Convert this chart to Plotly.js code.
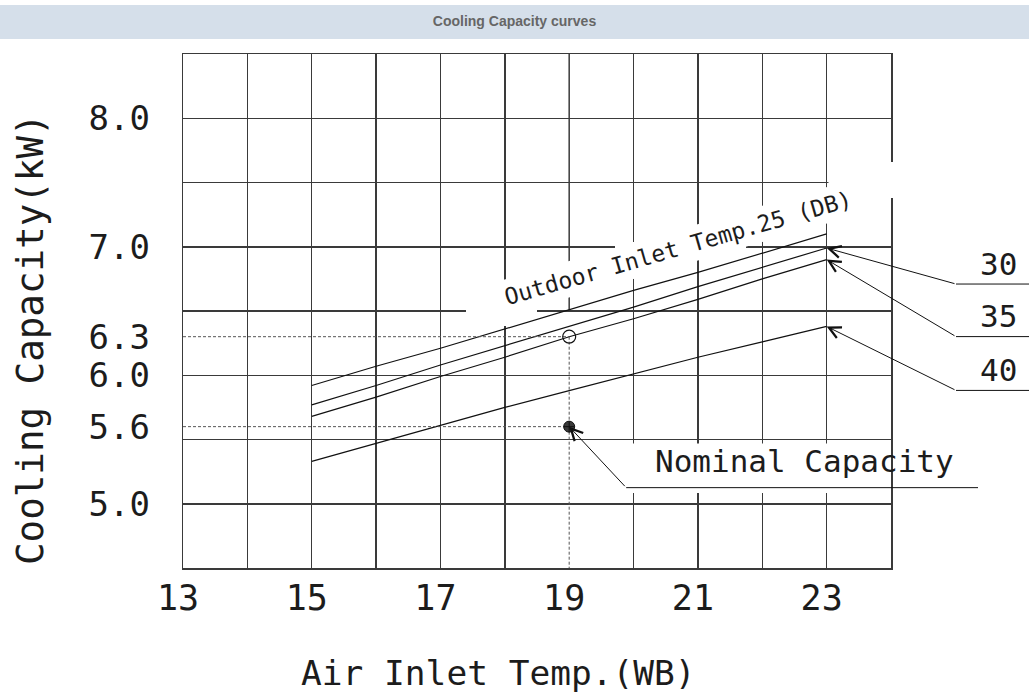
<!DOCTYPE html>
<html>
<head>
<meta charset="utf-8">
<script src="https://cdn.plot.ly/plotly-3.0.1.min.js"></script>
<style>
  html, body { margin: 0; padding: 0; background: #ffffff; }
  #chart { width: 1029px; height: 693px; }
</style>
</head>
<body>
<div id="chart"></div>
<script>
// ---------------- data ----------------
const airInletTemp = [15, 16, 17, 18, 19, 20, 21, 22, 23];          // indoor air inlet temp (WB)
const outdoorTemps = ['25', '30', '35', '40'];                        // outdoor inlet temp (DB)
const cap25 = [5.92, 6.07, 6.21, 6.36, 6.51, 6.66, 6.80, 6.95, 7.10];
const cap30 = [5.77, 5.92, 6.08, 6.23, 6.38, 6.53, 6.69, 6.84, 6.99];
const cap35 = [5.68, 5.83, 5.99, 6.14, 6.30, 6.44, 6.59, 6.75, 6.90];
const cap40 = [5.33, 5.47, 5.61, 5.75, 5.88, 6.01, 6.14, 6.26, 6.38];

const nominalTemp = 19;        // WB
const ratedCapacity = 6.3;     // kW (open circle)
const nominalCapacity = 5.6;   // kW (filled dot)

const xTickVals = [13, 15, 17, 19, 21, 23];
const xTickText = ['13', '15', '17', '19', '21', '23'];
const yTickVals = [5.0, 5.6, 6.0, 6.3, 7.0, 8.0];
const yTickText = ['5.0', '5.6', '6.0', '6.3', '7.0', '8.0'];

const xRange = [13, 24];
const yRange = [4.5, 8.5];
const xGrid = [14, 15, 16, 17, 18, 20, 21, 22, 23];   // 19 is drawn only partly
const yGrid = [5.0, 5.5, 6.0, 6.5, 7.0, 7.5, 8.0];

// ---------------- layout geometry ----------------
const L = 183, T = 54, W = 708, H = 514, R = 1029 - L - W, B = 693 - T - H;
const px = (p) => (p - L) / W;                 // pixel -> paper x
const py = (p) => (T + H - p) / H;             // pixel -> paper y
const dx = (p) => xRange[0] + (p - L) / W * (xRange[1] - xRange[0]);
const dy = (p) => yRange[0] + (T + H - p) / H * (yRange[1] - yRange[0]);

const CAD = 'DejaVu Sans Mono, Liberation Mono, monospace';
const INK = '#1c1c1c';
const GRID = '#3a3a3a';
const GW = 1.5;

const curves = [cap25, cap30, cap35, cap40];
const traces = curves.map((c, i) => ({
  type: 'scatter', mode: 'lines', x: airInletTemp, y: c,
  name: outdoorTemps[i], line: { color: '#111', width: 1.2 },
  showlegend: false, hoverinfo: 'skip'
}));

// dashed reference lines to the rated / nominal points
traces.push({
  type: 'scatter', mode: 'lines',
  x: [xRange[0], nominalTemp, null, xRange[0], nominalTemp, null, nominalTemp, nominalTemp],
  y: [ratedCapacity, ratedCapacity, null, nominalCapacity, nominalCapacity, null, ratedCapacity, yRange[0]],
  line: { color: '#555', width: 1, dash: '3px,2px' },
  showlegend: false, hoverinfo: 'skip'
});
traces.push({
  type: 'scatter', mode: 'markers', x: [nominalTemp], y: [ratedCapacity],
  marker: { symbol: 'circle-open', size: 13, color: '#111', line: { width: 1.2, color: '#111' } },
  showlegend: false, hoverinfo: 'skip'
});
traces.push({
  type: 'scatter', mode: 'markers', x: [nominalTemp], y: [nominalCapacity],
  marker: { symbol: 'circle-cross', size: 11, color: '#3a3a3a', line: { width: 1, color: '#111' } },
  showlegend: false, hoverinfo: 'skip'
});
// carrier for the label axes
traces.push({ type: 'scatter', mode: 'markers', x: [null], y: [null], xaxis: 'x2', yaxis: 'y2',
  showlegend: false, hoverinfo: 'skip' });

// ---------------- leaders ----------------
const elbowX = 956, rightEnd = 1029;
const leaders = [
  { val: cap30[cap30.length - 1], ay: 36,  label: outdoorTemps[1], labelY: 264 },
  { val: cap35[cap35.length - 1], ay: 77,  label: outdoorTemps[2], labelY: 316 },
  { val: cap40[cap40.length - 1], ay: 64,  label: outdoorTemps[3], labelY: 370 }
];
const endX = airInletTemp[airInletTemp.length - 1];
const tipPaperY = (v) => (v - yRange[0]) / (yRange[1] - yRange[0]);
const xPix = (v) => L + (v - xRange[0]) / (xRange[1] - xRange[0]) * W;

const annotations = [];
const shapes = [];

// title band
shapes.push({ type: 'rect', xref: 'paper', yref: 'paper', layer: 'below',
  x0: px(0), x1: px(1029), y0: py(39), y1: py(5),
  fillcolor: '#d5dfea', line: { width: 0 } });

// upper part of the x = 19 grid line
shapes.push({ type: 'line', xref: 'x', yref: 'y', layer: 'between',
  x0: nominalTemp, x1: nominalTemp, y0: 6.5, y1: yRange[1],
  line: { color: GRID, width: GW } });

// white masks behind CAD text (grid gaps)
shapes.push({ type: 'rect', xref: 'x', yref: 'y', layer: 'between',
  x0: dx(628), x1: dx(900), y0: dy(493), y1: dy(443.5),
  fillcolor: '#ffffff', line: { width: 0 } });
shapes.push({ type: 'rect', xref: 'x', yref: 'y', layer: 'between',
  x0: dx(466), x1: dx(537), y0: dy(326), y1: dy(289),
  fillcolor: '#ffffff', line: { width: 0 } });
shapes.push({ type: 'rect', xref: 'x', yref: 'y', layer: 'between',
  x0: dx(615), x1: dx(746), y0: dy(251), y1: dy(242),
  fillcolor: '#ffffff', line: { width: 0 } });
shapes.push({ type: 'rect', xref: 'paper', yref: 'paper', layer: 'above',
  x0: px(828.5), x1: px(900), y0: py(198), y1: py(162),
  fillcolor: '#ffffff', line: { width: 0 } });

leaders.forEach(ld => {
  annotations.push({ x: endX, y: ld.val, xref: 'x', yref: 'y', text: '',
    showarrow: true, ax: elbowX - xPix(endX), ay: ld.ay,
    axref: 'pixel', ayref: 'pixel', arrowhead: 5, arrowsize: 2.3, arrowwidth: 1,
    arrowcolor: '#111', standoff: 0 });
  const yy = tipPaperY(ld.val) - ld.ay / H;
  shapes.push({ type: 'line', xref: 'paper', yref: 'paper', x0: px(elbowX), x1: px(rightEnd),
    y0: yy, y1: yy, line: { color: '#111', width: 1 } });
  annotations.push({ xref: 'paper', yref: 'paper', x: px(998), y: py(ld.labelY),
    text: ld.label, showarrow: false, xanchor: 'center', yanchor: 'middle',
    font: { family: CAD, size: 31, color: INK } });
});

// nominal capacity leader
{
  const ax = 57, ay = 61;
  annotations.push({ x: nominalTemp, y: nominalCapacity, xref: 'x', yref: 'y', text: '',
    showarrow: true, ax: ax, ay: ay, axref: 'pixel', ayref: 'pixel',
    arrowhead: 5, arrowsize: 2.3, arrowwidth: 1, arrowcolor: '#111', standoff: 0 });
  const yy = tipPaperY(nominalCapacity) - ay / H;
  shapes.push({ type: 'line', xref: 'paper', yref: 'paper', x0: px(xPix(nominalTemp) + ax), x1: px(978),
    y0: yy, y1: yy, line: { color: '#111', width: 1 } });
  annotations.push({ xref: 'paper', yref: 'paper', x: px(804), y: py(461),
    text: 'Nominal Capacity', showarrow: false, xanchor: 'center', yanchor: 'middle',
    font: { family: CAD, size: 31, color: INK } });
}

// outdoor inlet temperature label (with white mask)
annotations.push({ xref: 'paper', yref: 'paper', x: px(678), y: py(248),
  text: 'Outdoor Inlet Temp.' + outdoorTemps[0] + ' (DB)', showarrow: false,
  textangle: -16, xanchor: 'center', yanchor: 'middle', bgcolor: '#ffffff', borderpad: 4,
  font: { family: CAD, size: 23, color: INK } });

// axis titles
annotations.push({ xref: 'paper', yref: 'paper', x: px(498), y: py(673),
  text: 'Air Inlet Temp.(WB)', showarrow: false, xanchor: 'center', yanchor: 'middle',
  font: { family: CAD, size: 34.5, color: INK } });
annotations.push({ xref: 'paper', yref: 'paper', x: px(30), y: py(339),
  text: 'Cooling Capacity(kW)', showarrow: false, textangle: -90,
  xanchor: 'center', yanchor: 'middle',
  font: { family: CAD, size: 37.5, color: INK } });

const layout = {
  width: 1029, height: 693,
  margin: { l: L, r: R, t: T, b: B, pad: 0 },
  paper_bgcolor: '#ffffff', plot_bgcolor: '#ffffff',
  showlegend: false,
  title: { text: 'Cooling Capacity curves', x: 0.5, xref: 'container', xanchor: 'center',
    y: 1 - 21 / 693, yref: 'container', yanchor: 'middle',
    font: { family: 'Liberation Sans, Arial, sans-serif', size: 14, color: '#666666', weight: 700 } },
  xaxis: { range: xRange, tickmode: 'array', tickvals: xGrid,
    showticklabels: false, ticks: '', showgrid: true, gridcolor: GRID, gridwidth: GW,
    zeroline: false, showline: true, mirror: true, linecolor: GRID, linewidth: GW,
    layer: 'below traces', fixedrange: true },
  yaxis: { range: yRange, tickmode: 'array', tickvals: yGrid,
    showticklabels: false, ticks: '', showgrid: true, gridcolor: GRID, gridwidth: GW,
    zeroline: false, showline: true, mirror: true, linecolor: GRID, linewidth: GW,
    layer: 'below traces', fixedrange: true },
  xaxis2: { overlaying: 'x', anchor: 'y', side: 'bottom',
    range: xRange, tickmode: 'array',
    tickvals: xTickVals, ticktext: xTickText, ticks: '', showgrid: false, zeroline: false,
    showline: false, ticklabelshift: -5, ticklabelstandoff: 6,
    tickfont: { family: CAD, size: 35, color: INK } },
  yaxis2: { overlaying: 'y', anchor: 'x', side: 'left',
    range: yRange, tickmode: 'array',
    tickvals: yTickVals, ticktext: yTickText, ticks: '', showgrid: false, zeroline: false,
    showline: false, ticklabelstandoff: 32,
    tickfont: { family: CAD, size: 34, color: INK } },
  shapes: shapes,
  annotations: annotations
};

Plotly.newPlot('chart', traces, layout, { staticPlot: true, displayModeBar: false });
</script>
</body>
</html>
